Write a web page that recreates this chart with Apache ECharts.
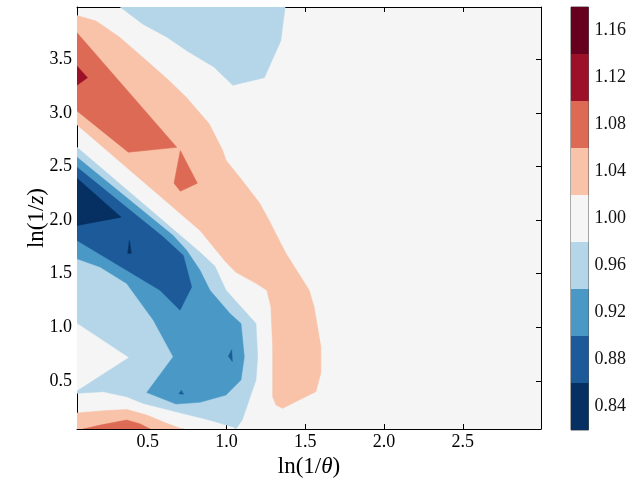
<!DOCTYPE html>
<html>
<head>
<meta charset="utf-8">
<script src="https://cdn.jsdelivr.net/npm/echarts@6/dist/echarts.min.js"></script>
<style>
  html, body { margin: 0; background: #fff; }
  #chart { width: 629px; height: 483px; }
</style>
</head>
<body>
<div id="chart"></div>
<script>
// contour band edges and colorbar ticks
const levels = [0.82, 0.86, 0.90, 0.94, 0.98, 1.02, 1.06, 1.10, 1.14, 1.18];
const levelTicks = [0.84, 0.88, 0.92, 0.96, 1.00, 1.04, 1.08, 1.12, 1.16];
const xTicks = [0.5, 1.0, 1.5, 2.0, 2.5];
const yTicks = [0.5, 1.0, 1.5, 2.0, 2.5, 3.0, 3.5];
const xRange = [0.0513, 2.996];
const yRange = [0.05, 3.99];

// region outlines: [ln(1/theta), ln(1/z)]
const lightBlueTop = [[0.325, 3.99], [0.47, 3.83], [0.62, 3.71], [0.75, 3.58], [0.92, 3.43],
  [1.04, 3.26], [1.24, 3.33], [1.345, 3.675], [1.372, 3.99]];
const salmonRidge = [[0.0513, 3.91], [0.172, 3.86], [0.32, 3.71], [0.468, 3.52], [0.616, 3.33],
  [0.743, 3.15], [0.89, 2.90], [0.976, 2.65], [0.997, 2.56], [1.10, 2.37], [1.21, 2.16],
  [1.27, 2.0], [1.335, 1.81], [1.377, 1.69], [1.525, 1.345], [1.556, 1.19], [1.599, 0.817],
  [1.599, 0.572], [1.567, 0.398], [1.356, 0.243], [1.314, 0.274], [1.293, 0.35], [1.293, 0.817],
  [1.282, 1.19], [1.256, 1.345], [1.187, 1.41], [1.06, 1.513], [0.997, 1.606], [0.832, 1.904],
  [0.0513, 2.89]];
const medRedRidge = [[0.0513, 3.75], [0.684, 2.68], [0.377, 2.634], [0.0513, 3.02]];
const redSpot = [[0.0513, 3.44], [0.118, 3.33], [0.0513, 3.26]];
const medRedIsland = [[0.707, 2.65], [0.815, 2.345], [0.707, 2.27], [0.667, 2.345]];
const salmonBottom = [[0.0513, 0.05], [0.0513, 0.2], [0.219, 0.22], [0.367, 0.233], [0.494, 0.18],
  [0.62, 0.103], [0.705, 0.056], [0.73, 0.05]];
const medRedBottom = [[0.09, 0.05], [0.2, 0.087], [0.366, 0.134], [0.45, 0.10], [0.515, 0.05]];
const lightBlueMain = [[0.0513, 2.68], [0.832, 1.70], [0.927, 1.569], [0.997, 1.345], [1.187, 1.035],
  [1.198, 0.724], [1.187, 0.507], [1.10, 0.134], [1.06, 0.05], [1.043, 0.068], [0.89, 0.134],
  [0.68, 0.21], [0.468, 0.29], [0.367, 0.35], [0.219, 0.398], [0.0513, 0.383]];
const whiteWedge = [[0.0513, 1.035], [0.377, 0.718], [0.0513, 0.41]];
const medBlueMain = [[0.0513, 2.588], [0.66, 1.858], [0.747, 1.718], [0.832, 1.532], [0.895, 1.345],
  [1.022, 1.128], [1.092, 1.035], [1.113, 0.724], [1.092, 0.507], [0.997, 0.367], [0.832, 0.30],
  [0.68, 0.283], [0.494, 0.391], [0.662, 0.724], [0.536, 1.066], [0.367, 1.408], [0.198, 1.562],
  [0.0513, 1.64]];
const blueMain = [[0.0513, 2.494], [0.599, 1.842], [0.726, 1.671], [0.779, 1.376], [0.705, 1.159],
  [0.578, 1.345], [0.367, 1.532], [0.0513, 1.811]];
const navyMain = [[0.0513, 2.39], [0.331, 2.028], [0.0513, 1.95]];
const navySpot = [[0.384, 1.81], [0.396, 1.69], [0.373, 1.69]];
const blueSpotA = [[1.033, 0.79], [1.037, 0.68], [1.012, 0.73]];
const blueSpotB = [[0.713, 0.41], [0.728, 0.375], [0.698, 0.378]];

// RdBu_r, one colour per band
const bandColors = ['#053061', '#1c5a99', '#4a98c6', '#b5d6e8', '#f5f5f5',
  '#f8c3a8', '#dc6a55', '#9c1127', '#67001f'];

// drawing order, each outline with the band it belongs to
const layers = [
  [lightBlueTop, 3], [salmonRidge, 5], [medRedRidge, 6], [redSpot, 7], [medRedIsland, 6],
  [salmonBottom, 5], [medRedBottom, 6], [lightBlueMain, 3], [whiteWedge, 4],
  [medBlueMain, 2], [blueMain, 1], [navyMain, 0], [navySpot, 0], [blueSpotA, 1], [blueSpotB, 1]
];

const serif = 'Liberation Serif';
const ink = '#000';

let myChart = echarts.init(document.getElementById('chart'), null, { renderer: 'canvas' });

const tickAxis = (extra) => Object.assign({
  type: 'value',
  splitLine: { show: false },
  axisLine: { show: true, onZero: false, lineStyle: { color: ink, width: 1 } },
  axisTick: { show: true, inside: true, length: 5, lineStyle: { color: ink } },
  axisLabel: { show: false }
}, extra);

const titleStyle = {
  color: ink, fontFamily: serif, fontSize: 23,
  rich: { i: { fontStyle: 'italic', fontFamily: serif, fontSize: 23, color: ink } }
};

const option = {
  animation: false,
  grid: [
    { left: 77, right: 88, top: 7, bottom: 54, backgroundColor: bandColors[4], show: true, borderWidth: 0 },
    { left: 571, width: 21, top: 7, bottom: 53, show: true, borderColor: '#555', borderWidth: 1 }
  ],
  xAxis: [
    tickAxis({
      gridIndex: 0, min: xRange[0], max: xRange[1], position: 'bottom',
      axisTick: { show: true, inside: true, length: 5, customValues: xTicks, lineStyle: { color: ink } },
      axisLabel: {
        show: true, customValues: xTicks, margin: 4, color: ink,
        fontFamily: serif, fontSize: 18, formatter: v => v.toFixed(1)
      },
      name: 'ln(1/{i|θ})', nameLocation: 'middle', nameGap: 26, nameMoveOverlap: false,
      nameTextStyle: titleStyle
    }),
    tickAxis({
      gridIndex: 0, min: xRange[0], max: xRange[1], position: 'top',
      axisTick: { show: true, inside: true, length: 5, customValues: xTicks, lineStyle: { color: ink } }
    }),
    { gridIndex: 1, type: 'value', min: 0, max: 1, show: false }
  ],
  yAxis: [
    tickAxis({
      gridIndex: 0, min: yRange[0], max: yRange[1], position: 'left',
      axisTick: { show: true, inside: true, length: 5, customValues: yTicks, lineStyle: { color: ink } },
      axisLabel: {
        show: true, customValues: yTicks, margin: 5, color: ink,
        fontFamily: serif, fontSize: 18, formatter: v => v.toFixed(1)
      },
      name: 'ln(1/{i|z})', nameLocation: 'middle', nameGap: 29, nameRotate: 90, nameMoveOverlap: false,
      nameTextStyle: titleStyle
    }),
    tickAxis({
      gridIndex: 0, min: yRange[0], max: yRange[1], position: 'right',
      axisTick: { show: true, inside: true, length: 5, customValues: yTicks, lineStyle: { color: ink } }
    }),
    {
      gridIndex: 1, type: 'value', min: levels[0], max: levels[levels.length - 1], position: 'right',
      splitLine: { show: false },
      axisLine: { show: false },
      axisTick: { show: true, inside: false, length: 5, customValues: levelTicks, lineStyle: { color: '#222' } },
      axisLabel: {
        show: true, customValues: levelTicks, margin: 6, color: '#111',
        fontFamily: serif, fontSize: 18, formatter: v => v.toFixed(2)
      }
    }
  ],
  series: [
    {
      type: 'custom',
      xAxisIndex: 0,
      yAxisIndex: 0,
      silent: true,
      clip: true,
      data: layers.map(l => l[0][0]),
      renderItem: (params, api) => {
        const [pts, band] = layers[params.dataIndex];
        return {
          type: 'polygon',
          shape: { points: pts.map(p => api.coord(p)) },
          style: { fill: bandColors[band], stroke: bandColors[band], lineWidth: 0.5 }
        };
      }
    },
    {
      type: 'custom',
      xAxisIndex: 2,
      yAxisIndex: 2,
      silent: true,
      data: levelTicks.map((t, i) => [0, t]),
      renderItem: (params, api) => {
        const i = params.dataIndex;
        const p0 = api.coord([0, levels[i]]);
        const p1 = api.coord([1, levels[i + 1]]);
        return {
          type: 'rect',
          shape: { x: p0[0], y: p1[1], width: p1[0] - p0[0], height: p0[1] - p1[1] },
          style: { fill: bandColors[i] }
        };
      }
    }
  ]
};

myChart.setOption(option, true);

window.addEventListener('resize', () => {
  myChart.resize();
});
</script>
</body>
</html>
